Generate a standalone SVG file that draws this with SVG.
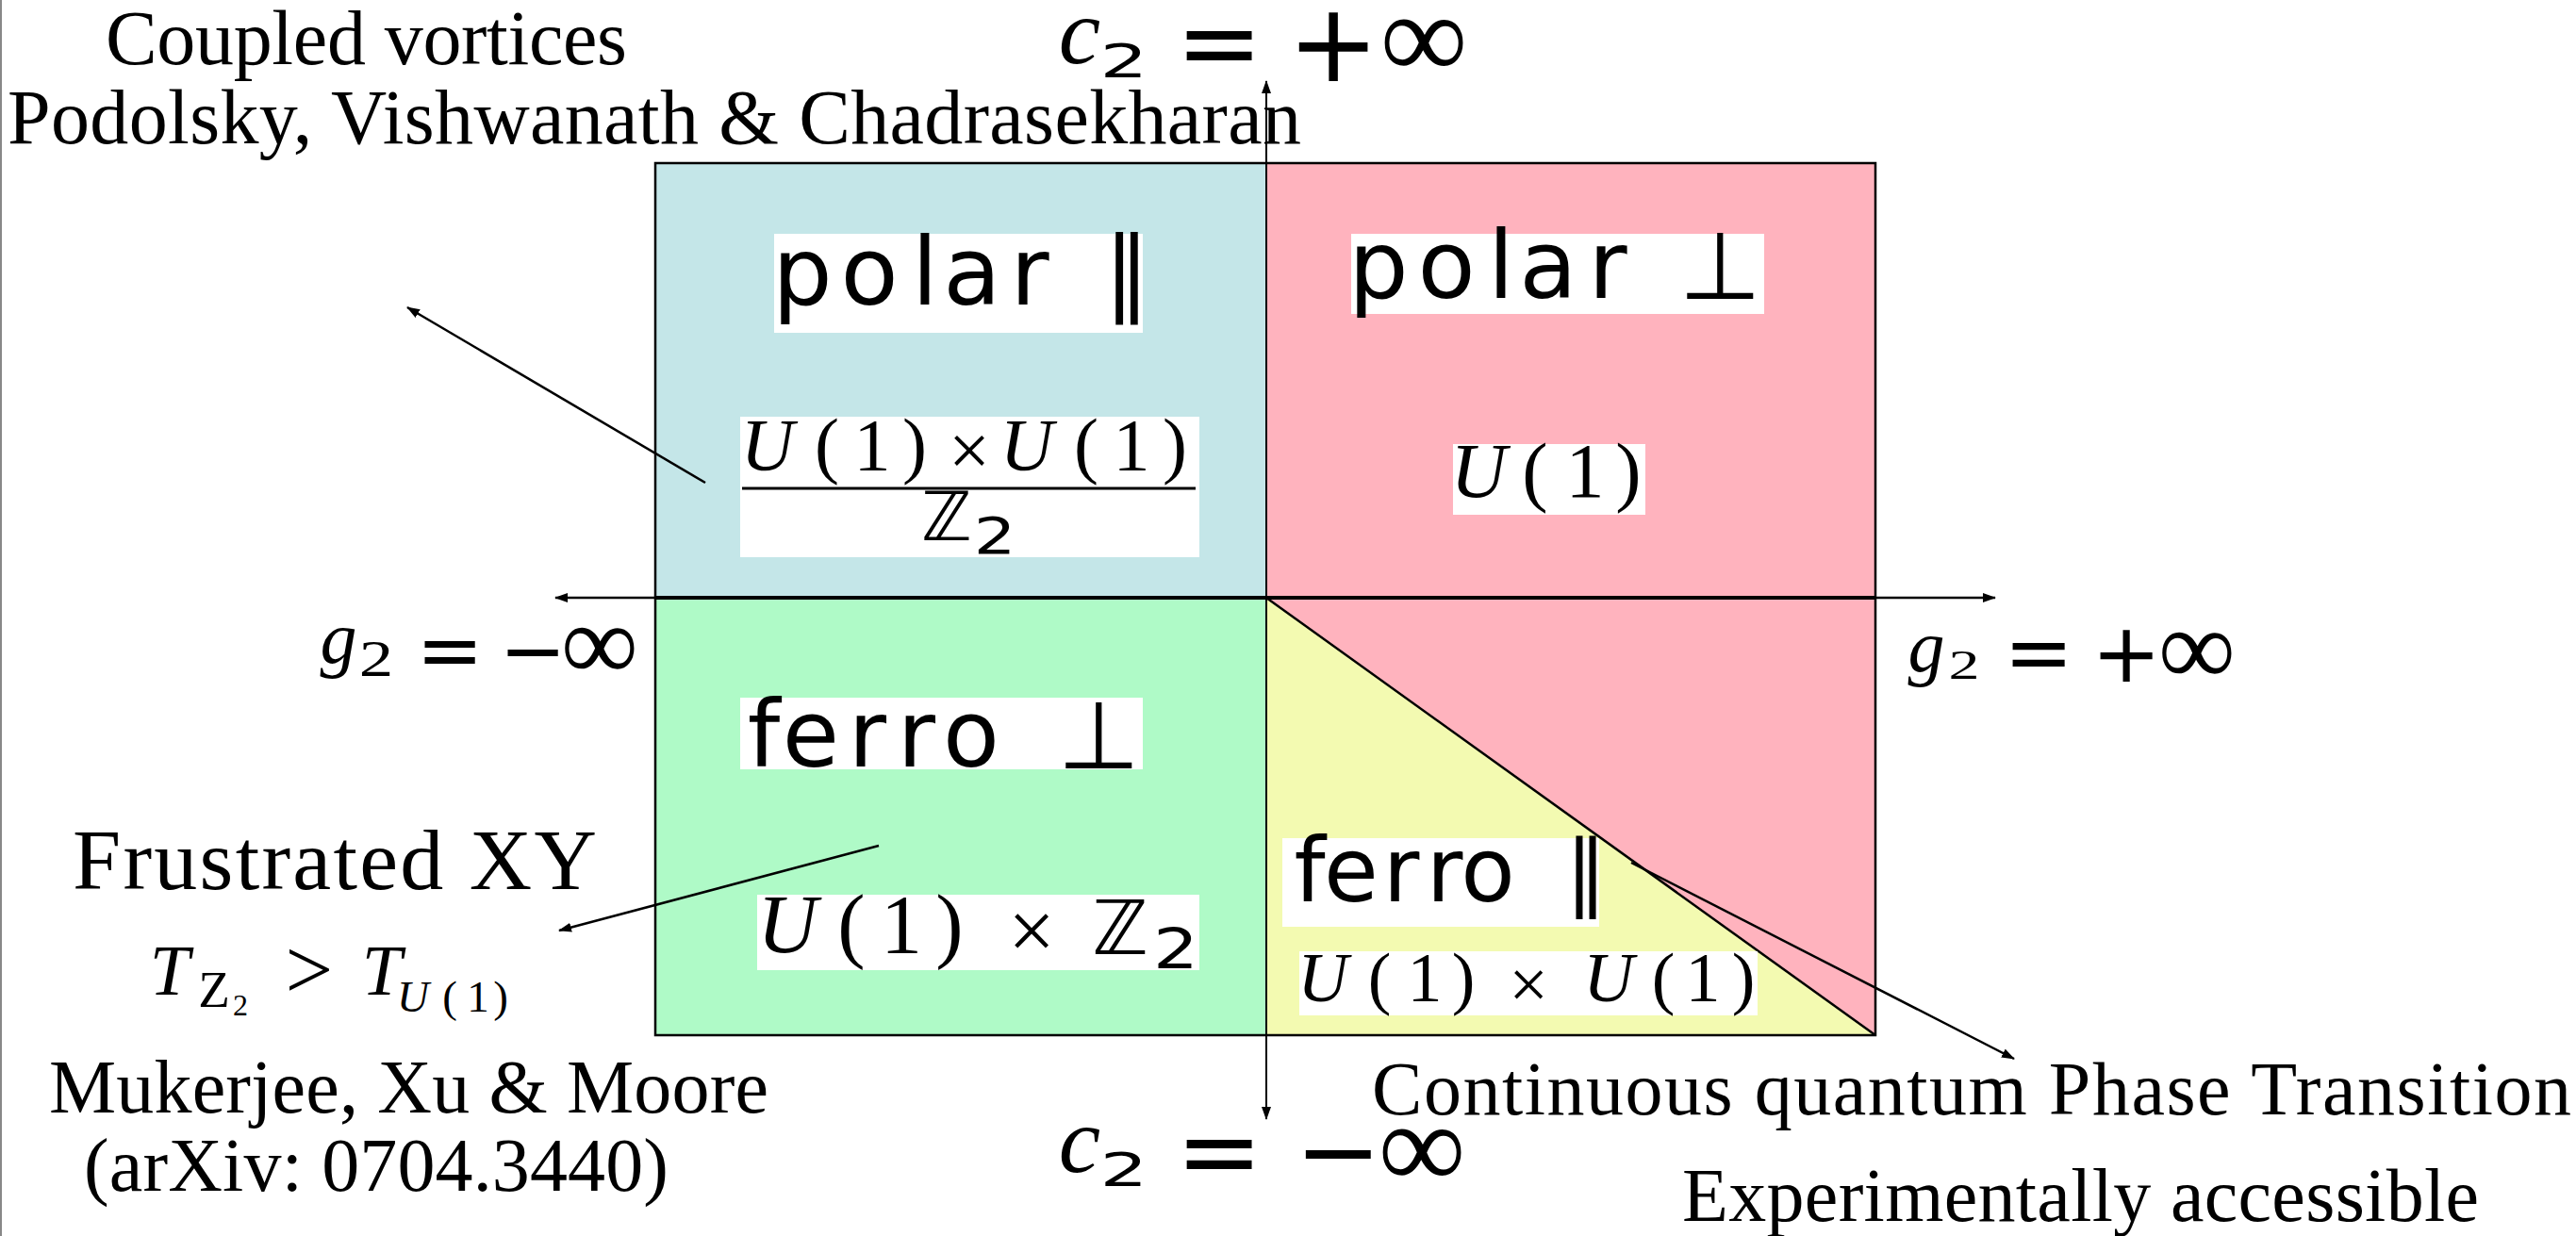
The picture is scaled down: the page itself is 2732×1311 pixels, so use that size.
<svg xmlns="http://www.w3.org/2000/svg" width="2732" height="1311" viewBox="0 0 2732 1311">
<defs>
<style>
.s{font-family:"Liberation Serif","Times New Roman",serif;fill:#000}
.i{font-style:italic}
.d{font-family:"DejaVu Sans",sans-serif;fill:#000}
.m{text-anchor:middle}
.wb{fill:#fff}
.ln{stroke:#000;stroke-width:2.5;fill:none}
</style>
<marker id="ah" viewBox="0 0 14 10" refX="13" refY="5" markerWidth="14" markerHeight="10" markerUnits="userSpaceOnUse" orient="auto-start-reverse"><path d="M0,0L14,5L0,10z" fill="#000"/></marker>
</defs>
<rect width="2732" height="1311" fill="#fff"/>
<line x1="1" y1="0" x2="1" y2="1311" stroke="#888" stroke-width="2"/>

<g id="q-polar-par"><rect x="695" y="173" width="648" height="461" fill="#C4E6E8"/></g>
<g id="q-polar-perp"><rect x="1343" y="173" width="646" height="461" fill="#FFB3BE"/><polygon points="1343,634 1989,634 1989,1098" fill="#FFB3BE"/></g>
<g id="q-ferro-perp"><rect x="695" y="634" width="648" height="464" fill="#AFFAC7"/></g>
<g id="q-ferro-par"><polygon points="1343,634 1989,1098 1343,1098" fill="#F3FAB1"/></g>

<g id="frame">
<rect x="695" y="173" width="1294" height="925" class="ln"/>
<line x1="695" y1="634" x2="1989" y2="634" stroke="#000" stroke-width="4"/>
<line x1="1343" y1="634" x2="1989" y2="1098" class="ln"/>
</g>

<g id="connectors">
<path d="M589,634H2116" class="ln" marker-start="url(#ah)" marker-end="url(#ah)"/>
<path d="M1343,86V1187" stroke="#000" stroke-width="2" fill="none" marker-start="url(#ah)" marker-end="url(#ah)"/>
<path d="M748,512L432,326" class="ln" marker-end="url(#ah)"/>
<path d="M932,897L593,987" class="ln" marker-end="url(#ah)"/>
<path d="M1730,915L2136,1123" class="ln" marker-end="url(#ah)"/>
</g>

<g id="label-polar-par">
<rect x="821" y="248" width="391" height="105" class="wb"/>
<text class="d m" font-size="100" x="851 922 981 1031 1092" y="323">polar</text>
<text class="d m" font-size="100" x="1195" y="323">∥</text>
<rect x="785" y="442" width="487" height="149" class="wb"/>
<text class="s m" font-size="78" y="498"><tspan class="i" x="814">U</tspan><tspan x="877 925 970">(1)</tspan><tspan x="1028" y="504">×</tspan><tspan class="i" x="1089" y="498">U</tspan><tspan x="1152 1200 1246">(1)</tspan></text>
<line x1="787" y1="518" x2="1268" y2="518" stroke="#000" stroke-width="3"/>
<text class="d m" font-size="72" x="1004" y="573">ℤ</text>
<text class="d m" font-size="54" transform="translate(1055,587) scale(1.3,1)">2</text>
</g>

<g id="label-polar-perp">
<rect x="1433" y="248" width="438" height="85" class="wb"/>
<text class="d m" font-size="100" x="1462 1534 1592 1642 1705" y="316">polar</text>
<text class="d m" font-size="100" x="1824" y="317">⊥</text>
<rect x="1541" y="471" width="204" height="75" class="wb"/>
<text class="s m" font-size="82" y="527"><tspan class="i" x="1568">U</tspan><tspan x="1628 1681 1727">(1)</tspan></text>
</g>

<g id="label-ferro-perp">
<rect x="785" y="740" width="427" height="76" class="wb"/>
<text class="d m" font-size="98" x="810 860 920 972 1030" y="813">ferro</text>
<text class="d m" font-size="100" x="1165" y="815">⊥</text>
<rect x="803" y="949" width="469" height="80" class="wb"/>
<text class="s m" font-size="88" y="1010"><tspan class="i" x="835">U</tspan><tspan x="903 956 1007">(1)</tspan><tspan x="1094" y="1017">×</tspan></text>
<text class="d m" font-size="80" x="1188" y="1012">ℤ</text>
<text class="d m" font-size="58" transform="translate(1247,1027) scale(1.3,1)">2</text>
</g>

<g id="label-ferro-par">
<rect x="1360" y="889" width="336" height="94" class="wb"/>
<text class="d m" font-size="94" x="1389 1433 1486 1532 1578" y="956">ferro</text>
<text class="d m" font-size="90" x="1682" y="956">∥</text>
<rect x="1378" y="1009" width="486" height="68" class="wb"/>
<text class="s m" font-size="74" y="1062"><tspan class="i" x="1403">U</tspan><tspan x="1463 1511 1552">(1)</tspan><tspan x="1621" y="1069">×</tspan><tspan class="i" x="1706" y="1062">U</tspan><tspan x="1764 1806 1849">(1)</tspan></text>
</g>

<g id="axis-c2-plus">
<text class="s i m" font-size="100" x="1145" y="67">c</text>
<text class="d m" font-size="50" transform="translate(1192,82) scale(1.6,1)">2</text>
<text class="d m" font-size="110" x="1293" y="83">=</text>
<text class="d m" font-size="116" x="1414" y="86">+</text>
<text class="s m" font-size="130" x="1510" y="83">∞</text>
</g>
<g id="axis-c2-minus">
<text class="s i m" font-size="100" x="1145" y="1243">c</text>
<text class="d m" font-size="50" transform="translate(1192,1258) scale(1.6,1)">2</text>
<text class="d m" font-size="110" x="1293" y="1259">=</text>
<text class="d m" font-size="110" x="1419" y="1259">−</text>
<text class="s m" font-size="130" x="1508" y="1260">∞</text>
</g>
<g id="axis-g2-minus">
<text class="s i m" font-size="78" x="359" y="703">g</text>
<text class="s m" font-size="54" transform="translate(399,717) scale(1.35,1)">2</text>
<text class="d m" font-size="85" x="477" y="719">=</text>
<text class="d m" font-size="85" x="565" y="719">−</text>
<text class="s m" font-size="115" x="636" y="721">∞</text>
</g>
<g id="axis-g2-plus">
<text class="s i m" font-size="78" x="2043" y="712">g</text>
<text class="s m" font-size="44" transform="translate(2083,720) scale(1.5,1)">2</text>
<text class="d m" font-size="88" x="2162" y="722">=</text>
<text class="d m" font-size="88" x="2255" y="723">+</text>
<text class="s m" font-size="115" x="2330" y="726">∞</text>
</g>

<g id="note-coupled">
<text class="s" font-size="82" x="112" y="68" textLength="553">Coupled vortices</text>
<text class="s" font-size="82" x="8" y="152" textLength="1372">Podolsky, Vishwanath &amp; Chadrasekharan</text>
</g>
<g id="note-frustrated">
<text class="s" font-size="92" x="77" y="943" textLength="556">Frustrated XY</text>
<text class="s i m" font-size="76" x="180" y="1055">T</text>
<text class="s m" font-size="55" x="227" y="1068">Z</text>
<text class="s m" font-size="32" x="255" y="1077">2</text>
<text class="s m" font-size="90" x="328" y="1059">&gt;</text>
<text class="s i m" font-size="76" x="405" y="1055">T</text>
<text class="s m" font-size="47" y="1073"><tspan class="i" x="438">U</tspan><tspan x="477 507 531">(1)</tspan></text>
<text class="s" font-size="80" x="52" y="1180" textLength="763">Mukerjee, Xu &amp; Moore</text>
<text class="s" font-size="80" x="89" y="1263" textLength="620">(arXiv: 0704.3440)</text>
</g>
<g id="note-transition">
<text class="s" font-size="80" x="1455" y="1182" textLength="1272">Continuous quantum Phase Transition</text>
<text class="s" font-size="80" x="1784" y="1295" textLength="845">Experimentally accessible</text>
</g>
</svg>
